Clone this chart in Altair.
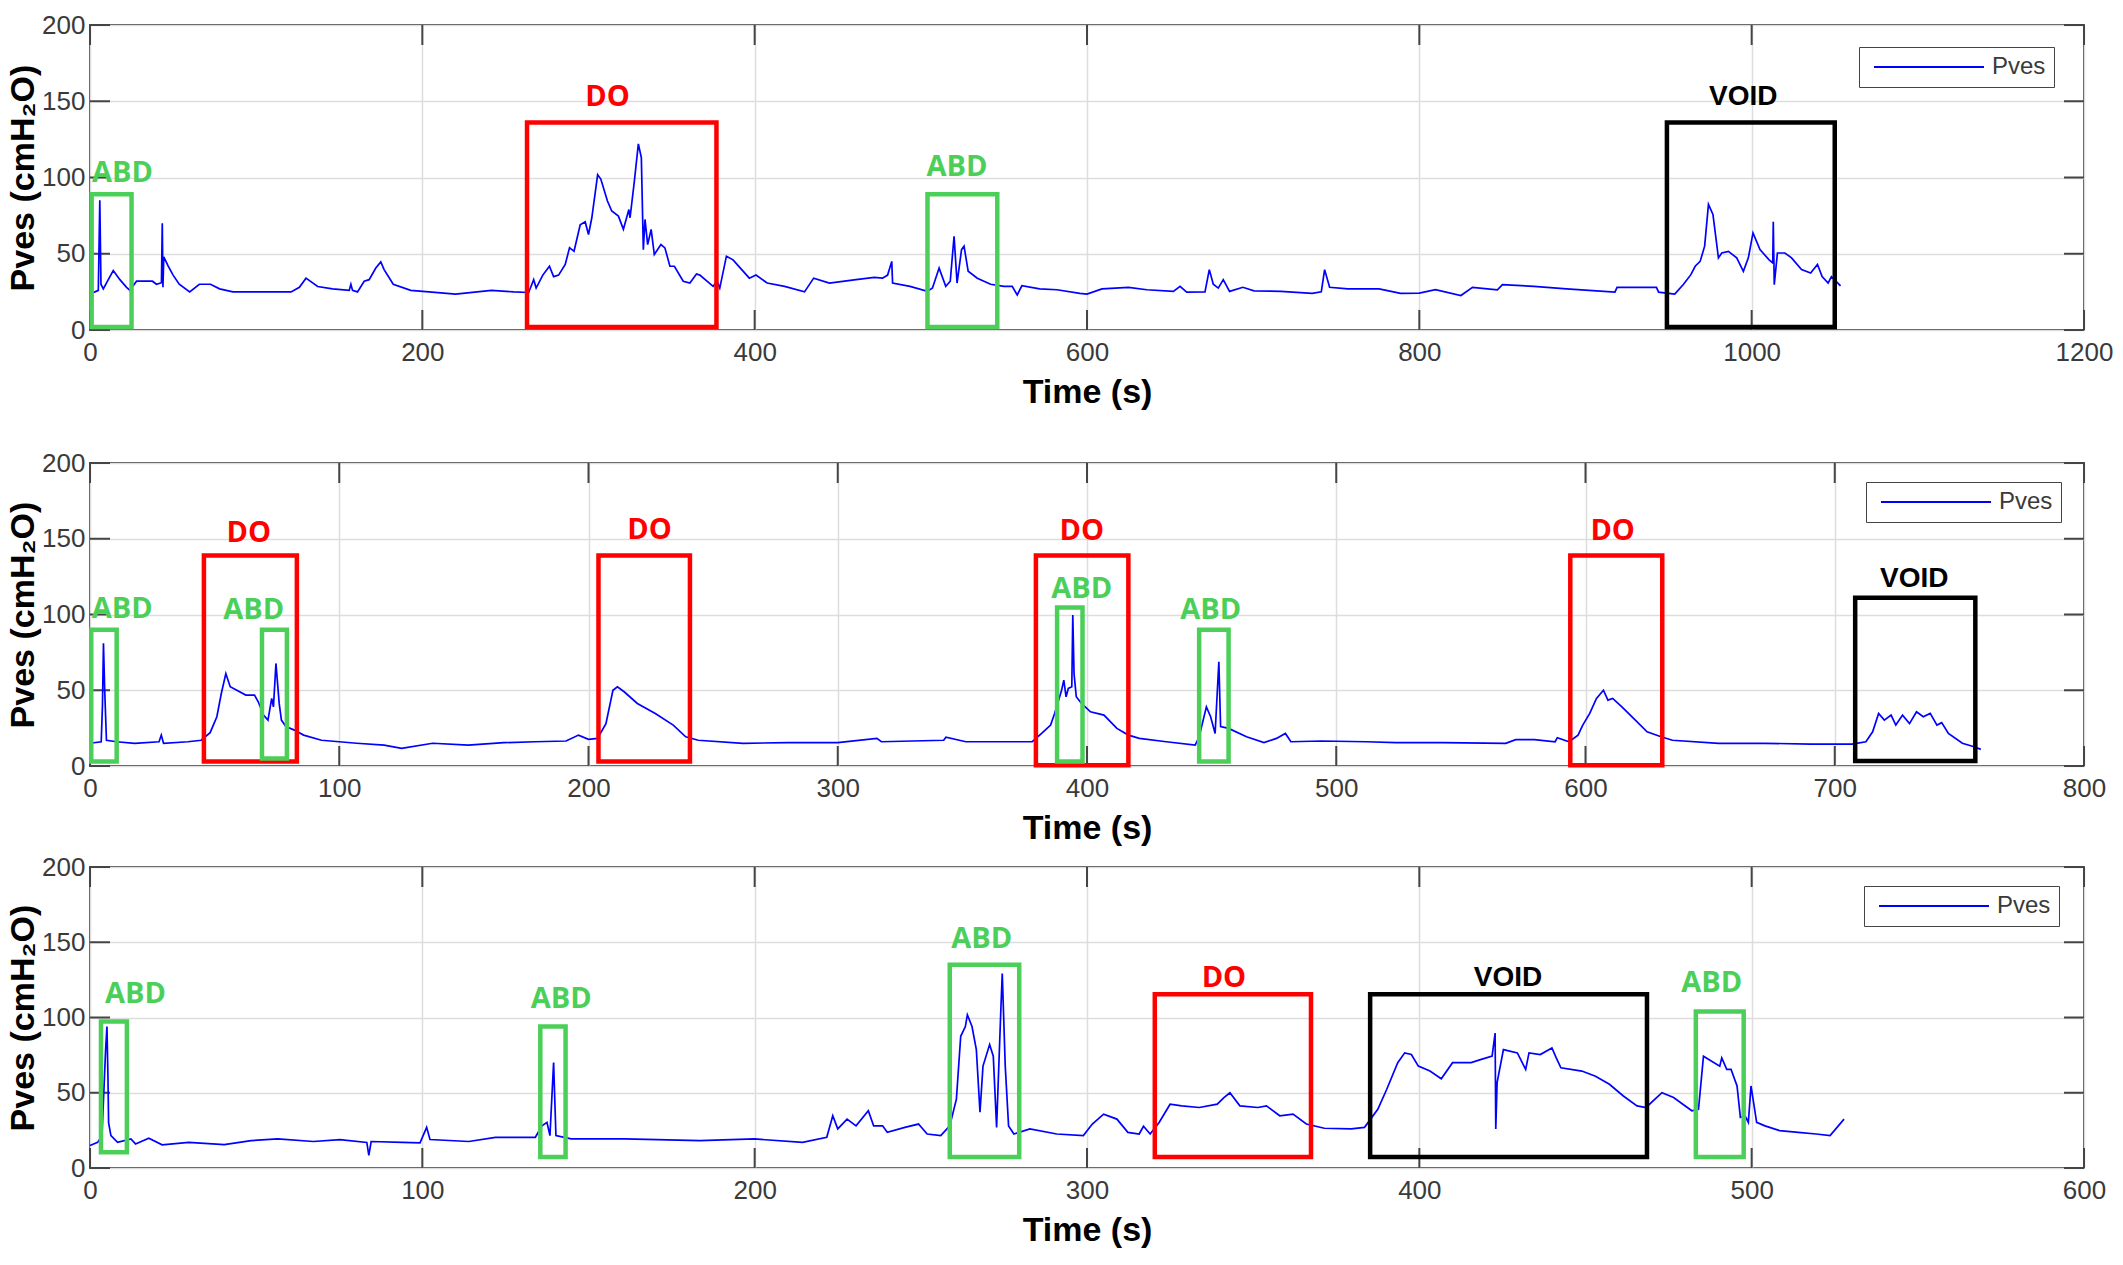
import altair as alt
import pandas as pd

# ---------------- data ----------------
# Panel 1 (0-1200 s)
p1_t = [0, 3, 5, 5.9, 6.6, 8, 11, 14, 18, 22, 24, 28, 33, 37.6, 40, 43, 43.5, 43.9, 44.4, 47, 50, 53.7, 60, 65.8, 72.5, 78, 86, 107, 121, 126, 130, 137, 146, 156, 157, 158, 161, 165, 168, 172, 175, 177, 182.5, 193, 204, 220, 241.6, 255, 264, 267, 268.5, 272.5, 276.5, 279, 282, 286, 288.6, 291.3, 295, 298, 300, 302, 305.5, 307.4, 311.4, 314, 318, 321, 324.3, 325, 327.5, 330, 331.8, 333, 334, 335.6, 337.7, 339.6, 343.6, 346, 349, 351.7, 357, 361, 365, 367, 375, 377.4, 379, 383, 387, 391.4, 396.8, 400.8, 407.5, 418, 430, 435.5, 445, 461, 472, 477, 480, 482.5, 483, 493.5, 504, 507, 511, 515, 517.7, 520, 521.8, 524.5, 526, 528.5, 534, 542, 550, 555, 558, 560.8, 571.5, 582, 595.7, 600, 609, 625, 636, 652, 656, 660, 671, 673.6, 676, 679, 682, 685.8, 693.8, 700.5, 716.7, 735.5, 741, 743, 746, 757, 775.8, 788.7, 800, 809.7, 825, 832, 847, 850, 869, 888.6, 917.7, 919, 942.7, 944, 953.7, 959, 963.4, 966, 969, 971.7, 974, 976.7, 980, 982, 986, 991, 995, 998, 1000.8, 1005, 1010.5, 1012.7, 1013, 1013.6, 1015.5, 1020, 1024, 1030, 1035.5, 1039.6, 1042.4, 1046, 1048, 1053.5]
p1_v = [24, 25, 26, 85, 30, 27, 33, 39, 33, 28, 26, 32, 32, 32, 30, 31, 70, 28, 48, 42, 36, 30, 25, 30, 30, 27, 25, 25, 25, 28, 34, 28.5, 27, 26, 30, 26, 25, 32, 33, 40.6, 44.6, 39.6, 30, 26, 25, 23.5, 26, 25, 24.6, 33, 27.5, 36, 41.8, 35, 36, 43, 54, 51.6, 69, 71, 62.6, 73.6, 101.8, 99, 84.6, 78, 74.7, 66, 79, 73.6, 96.7, 122, 113, 52.7, 72.5, 56, 66, 49.5, 56, 53.8, 41.8, 41.8, 32, 30.8, 36.7, 36, 28.6, 32, 27.5, 48.4, 46, 40.6, 34, 36, 30.8, 28.6, 25, 34, 30.8, 33, 34.5, 34, 36, 45, 30.8, 28.6, 25.3, 27.5, 40.6, 28.6, 32, 61.5, 30.8, 52.7, 55, 38.5, 34, 30, 28.6, 28.6, 23, 29, 27, 26.4, 24, 23.5, 27, 28, 26.4, 25.3, 28.6, 24.8, 25, 39.6, 30, 27.5, 33, 25.3, 28, 25.7, 25.3, 24, 25, 39.6, 28, 27, 27, 24, 24.2, 26.4, 22.6, 28, 26.4, 29.7, 28.6, 27, 24.8, 28, 28, 24.8, 23.5, 30, 36.3, 41.8, 45, 55, 82.4, 75.8, 47.3, 50.5, 51.6, 47.3, 38.5, 47.3, 63.7, 52.7, 46, 44, 71, 29.7, 50.5, 50.5, 47.3, 39.6, 37.4, 43, 35, 30.8, 35, 29]

# Panel 2 (0-800 s)
p2_t = [0, 4.5, 5, 5.4, 5.9, 6.6, 10.7, 17.9, 27.7, 28.6, 29.5, 39.3, 44.6, 48.2, 50.9, 52.7, 54.5, 56.25, 58.9, 62.5, 66, 67.5, 69.6, 71.4, 72.9, 73.6, 74.6, 75.9, 76.8, 78.6, 82, 85.7, 92.9, 100, 107, 118, 125, 137.5, 151.8, 166, 178.6, 191, 196, 200, 203.6, 207, 209.8, 211.6, 214.3, 219.6, 226.8, 234, 239, 244, 262, 280, 300, 315.7, 317.5, 342.5, 343.4, 351.4, 369, 378, 381.8, 385.4, 387, 389.8, 390.7, 391.6, 392.5, 393.9, 394.3, 394.8, 395.7, 397.8, 401.4, 406.8, 412, 416.6, 421, 431.8, 443.4, 445, 447.9, 449.6, 451.4, 452.9, 453.6, 456.8, 464, 471, 476, 479.6, 481.8, 494, 512, 524, 542.6, 568, 572, 579.5, 587.8, 588.7, 593.4, 597, 598.9, 601.7, 604.4, 607.2, 609, 610.9, 614.6, 620, 624.7, 630.3, 634.9, 653.4, 671.8, 690.3, 706.9, 712.5, 715.2, 717.6, 719.9, 722.6, 724.5, 727.2, 730, 732.8, 735.5, 738.3, 741, 742.9, 745.6, 751.2, 755.9, 758.6]
p2_v = [15, 16, 40, 81, 50, 17, 16, 15, 16, 20.4, 15, 16, 17, 22, 32.5, 48, 61, 52.3, 50, 46.8, 46.8, 42.4, 33.6, 30.3, 44.6, 39, 67.7, 41.3, 30.3, 26, 23.7, 20.4, 17, 16, 15, 13.8, 11.6, 15, 13.8, 15.4, 16, 16.5, 20.4, 17.6, 18.2, 28, 50, 52.3, 49, 41.3, 34.7, 27, 19.3, 17, 15, 15.4, 15.4, 18.2, 16, 17, 19, 16, 16, 16, 21.5, 27, 34.7, 50, 56.7, 45.7, 51.2, 52.3, 99.6, 61, 45.7, 41.3, 35.8, 33.6, 24.8, 20.4, 18.2, 16, 13.8, 19.3, 39, 32.5, 21.5, 68.8, 26, 24.8, 19.3, 15.4, 18.2, 21.5, 16, 16.5, 16, 15.4, 15.4, 15, 17.4, 17.4, 16, 18.7, 16, 20.4, 27, 34.7, 44.6, 50, 43.5, 44.6, 39, 30.3, 22.6, 19.3, 17, 15, 15, 14.5, 14.5, 16, 22.6, 34.7, 30.3, 33.6, 27, 33.6, 28, 35.8, 32.5, 34.7, 27, 28.6, 21.5, 15, 12.7, 11]

# Panel 3 (0-600 s)
p3_t = [0, 2.3, 3.6, 4.7, 5.1, 5.4, 5.6, 6.3, 8.3, 12.3, 13.7, 17.7, 21.7, 29.7, 40.4, 48.5, 56.5, 67.2, 75.2, 83.3, 83.9, 84.6, 94, 99.3, 101.3, 102.3, 114, 122, 134, 136, 137.5, 138.4, 139.5, 140.2, 144.8, 160.9, 183.5, 200, 214.4, 221.7, 223.5, 225, 227.8, 230.5, 234.2, 235.8, 238.5, 239.9, 245.2, 249.3, 251.9, 256, 258.7, 260.7, 262, 263.4, 264, 265.4, 266.7, 267.8, 268.7, 270.7, 271.8, 272.8, 274, 274.5, 275.4, 276.4, 278, 282.8, 290.9, 298.9, 301.6, 305, 309, 312.3, 315.7, 317, 319, 321.7, 325, 328.5, 333.8, 339.2, 341.2, 343, 346, 351.4, 354, 358, 362, 366, 371.4, 379.5, 383.5, 387.5, 390.2, 393.5, 395.6, 397.6, 399.7, 403.2, 406.6, 410, 415.6, 418.4, 421.9, 422.8, 423, 423.4, 425.3, 429.5, 432, 433, 436.4, 439.9, 441.2, 442.6, 448.9, 453, 457.2, 461.3, 465.5, 468.2, 473, 476.5, 482, 484, 485.5, 490.4, 491, 492.5, 493.8, 495.6, 496.6, 498, 499, 499.8, 501.5, 504, 508.4, 514, 519.4, 523.6, 527.8]
p3_v = [15, 17, 21.5, 78.7, 94, 61, 30, 21.5, 17, 19.3, 16, 19.8, 15.4, 17, 15.6, 18.2, 19.3, 17.6, 18.9, 17, 8.4, 17.6, 17, 16.7, 27, 18.9, 17.6, 20.4, 20.4, 28, 30.3, 21.5, 70, 21.5, 19.3, 19.3, 18.2, 19.3, 17, 20.4, 34.7, 26, 32.5, 28, 38, 28, 28, 23.7, 27, 29.2, 22.6, 21.5, 28, 45.7, 87.5, 94, 101.8, 94, 78.7, 37, 67.7, 82, 74.3, 27, 100.7, 129.2, 67.7, 28, 22.6, 26, 22.6, 21.5, 29.2, 35.8, 32.5, 23.7, 22.6, 27.7, 22.6, 30.3, 42.4, 41.3, 40.2, 42.4, 46.8, 50, 41.3, 40.2, 41.3, 34.7, 35.8, 29.2, 26.4, 26, 27, 39, 52.3, 70, 76.5, 75.4, 67.7, 64.4, 59.3, 70, 70, 72, 74.3, 89.7, 26, 56.7, 78.7, 76.5, 65.5, 76.5, 75.4, 79.8, 73.2, 66.6, 64.4, 61, 55.6, 48, 41.3, 40.2, 50, 46.8, 38, 39, 74.3, 67.7, 73.2, 65.5, 65.5, 54.5, 33.6, 34.7, 30.3, 54.5, 30.3, 28, 24.8, 23.7, 22.6, 21.5, 32.5]

# annotation boxes: kind, x0, x1, y0, y1 ; label centres
p1_box_kind = ["ABD", "DO", "ABD", "VOID"]
p1_box_x0 = [1, 263, 504, 949]
p1_box_x1 = [25, 377, 546, 1050]
p1_box_y0 = [2, 2, 2, 2]
p1_box_y1 = [89, 136, 89, 136]
p1_lab_x = [19.5, 311.4, 521.8, 995]
p1_lab_y = [103, 153, 107, 153]

p2_box_kind = ["ABD", "DO", "ABD", "DO", "DO", "ABD", "ABD", "DO", "VOID"]
p2_box_x0 = [0.5, 45.7, 69, 204, 379.5, 388, 445, 593.9, 708.2]
p2_box_x1 = [10.7, 83, 79, 240.7, 416.6, 398.2, 456.8, 630.8, 756.4]
p2_box_y0 = [3, 3, 5, 3, 0.5, 3, 3, 0.5, 3.3]
p2_box_y1 = [90, 139, 90, 139, 139, 104.6, 90, 139, 111]
p2_lab_x = [12.9, 63.75, 65.7, 224.5, 397.9, 397.9, 449.6, 610.9, 731.9]
p2_lab_y = [103.5, 153.8, 103, 155.6, 155, 116.7, 103, 155, 123.7]

p3_box_kind = ["ABD", "ABD", "ABD", "DO", "VOID", "ABD"]
p3_box_x0 = [3.3, 135.5, 258.7, 320.4, 385.2, 483.2]
p3_box_x1 = [11.1, 143.1, 279.6, 367.4, 468.5, 497.6]
p3_box_y0 = [10.5, 7.3, 7.3, 7.3, 7.3, 7.3]
p3_box_y1 = [97.4, 94, 135, 115.4, 115.4, 104]
p3_lab_x = [13.7, 141.8, 268.3, 341.2, 426.7, 488]
p3_lab_y = [115.6, 112.3, 152, 126.4, 126.4, 122.6]

kind_color = {"ABD": "#4ccf59", "DO": "#ff0000", "VOID": "#000000"}
y_ticks = [0, 50, 100, 150, 200]

W = 1994
FRAME = "#454545"
TICKLEN = 20


def panel(t, v, xmax, xstep, kinds, x0, x1, y0, y1, lx, ly, h, leg_x, leg_y, extra_bottom=0):
    df = pd.DataFrame({"t": t, "v": v, "s": ["Pves"] * len(t)})
    boxes = pd.DataFrame({"kind": kinds, "x0": x0, "x1": x1, "y0": y0, "y1": y1,
                          "col": [kind_color[k] for k in kinds]})
    labs = pd.DataFrame({"kind": kinds, "x": lx, "y": ly,
                         "col": [kind_color[k] for k in kinds]})
    xt = list(range(0, xmax + 1, xstep))
    xticks = pd.DataFrame({"x": xt})
    yticks = pd.DataFrame({"y": y_ticks})

    xs = alt.Scale(domain=[0, xmax], nice=False, zero=False)
    ys = alt.Scale(domain=[0, 200], nice=False)
    xa = alt.Axis(values=xt, title="Time (s)", grid=True, gridColor="#dddddd", gridWidth=1.5,
                  domain=False, ticks=False, labelFlush=False, labelOverlap=False,
                  labelFont="Liberation Sans", labelFontSize=26, labelColor="#3a3a3a",
                  labelPadding=9, titleFont="Liberation Sans", titleFontSize=34,
                  titleFontWeight="bold", titleColor="#000000", titlePadding=10, format="d")
    ya = alt.Axis(values=y_ticks, title="Pves (cmH₂O)", grid=True, gridColor="#dddddd", gridWidth=1.5,
                  domain=False, ticks=False, labelFlush=False, labelOverlap=False,
                  labelFont="Liberation Sans", labelFontSize=26, labelColor="#3a3a3a",
                  labelPadding=5, titleFont="Liberation Sans", titleFontSize=34,
                  titleFontWeight="bold", titleColor="#000000", titlePadding=1, format="d")

    X = lambda f: alt.X(f, type="quantitative", scale=xs, axis=xa)
    Y = lambda f: alt.Y(f, type="quantitative", scale=ys, axis=ya)

    line = alt.Chart(df).mark_line(strokeWidth=1.7, interpolate="linear").encode(
        x=X("t"), y=Y("v"),
        color=alt.Color("s:N", scale=alt.Scale(domain=["Pves"], range=["#0000ff"]),
                        legend=alt.Legend(title=None, orient="none", legendX=leg_x, legendY=leg_y,
                                          padding=8, strokeColor=FRAME, fillColor="#ffffff",
                                          symbolType="M-10,0H10", symbolSize=121,
                                          symbolOffset=50,
                                          symbolStrokeWidth=2, labelFontSize=24,
                                          labelFont="Liberation Sans", labelColor="#3a3a3a",
                                          labelOffset=51)))
    rect = alt.Chart(boxes).mark_rect(fillOpacity=0, strokeWidth=4.5).encode(
        x=X("x0"), x2="x1", y=Y("y0"), y2="y1",
        stroke=alt.Stroke("col:N", scale=None))
    txt1 = alt.Chart(labs).transform_filter(alt.datum.kind != "VOID").mark_text(
        font="Open Sans", fontWeight="bold", fontSize=29, align="center", baseline="middle").encode(
        x=X("x"), y=Y("y"), text="kind:N", fill=alt.Fill("col:N", scale=None))
    txt2 = alt.Chart(labs).transform_filter(alt.datum.kind == "VOID").mark_text(
        font="Liberation Sans", fontWeight="bold", fontSize=28, align="center", baseline="middle").encode(
        x=X("x"), y=Y("y"), text="kind:N", fill=alt.Fill("col:N", scale=None))
    tk_top = alt.Chart(xticks).mark_rule(color=FRAME, strokeWidth=2).encode(
        x=X("x"), y=alt.value(0), y2=alt.value(TICKLEN))
    tk_bot = alt.Chart(xticks).mark_rule(color=FRAME, strokeWidth=2).encode(
        x=X("x"), y=alt.value(h - TICKLEN), y2=alt.value(h))
    tk_left = alt.Chart(yticks).mark_rule(color=FRAME, strokeWidth=2).encode(
        y=Y("y"), x=alt.value(0), x2=alt.value(TICKLEN))
    tk_right = alt.Chart(yticks).mark_rule(color=FRAME, strokeWidth=2).encode(
        y=Y("y"), x=alt.value(W - TICKLEN), x2=alt.value(W))
    layers = [tk_top, tk_bot, tk_left, tk_right, line, rect, txt1, txt2]
    if extra_bottom:
        spacer = alt.Chart(pd.DataFrame({"a": [0]})).mark_rule(strokeOpacity=0).encode(
            x=alt.value(10), y=alt.value(h), y2=alt.value(h + extra_bottom))
        layers.append(spacer)
    return alt.layer(*layers).properties(width=W, height=h)


c1 = panel(p1_t, p1_v, 1200, 200, p1_box_kind, p1_box_x0, p1_box_x1, p1_box_y0, p1_box_y1,
           p1_lab_x, p1_lab_y, 305, 1769, 22, extra_bottom=111)
c2 = panel(p2_t, p2_v, 800, 100, p2_box_kind, p2_box_x0, p2_box_x1, p2_box_y0, p2_box_y1,
           p2_lab_x, p2_lab_y, 303, 1776, 19)
c3 = panel(p3_t, p3_v, 600, 100, p3_box_kind, p3_box_x0, p3_box_x1, p3_box_y0, p3_box_y1,
           p3_lab_x, p3_lab_y, 301, 1774, 19)

chart = alt.vconcat(c1, c2, c3, spacing=7).resolve_scale(
    color="independent", x="independent").resolve_legend(color="independent").properties(
    padding={"left": 5, "top": 11, "right": 5, "bottom": 5}, background="#ffffff"
).configure_view(stroke=FRAME, strokeWidth=2)

chart.save("out.html", embed_options={"renderer": "svg", "actions": False})
